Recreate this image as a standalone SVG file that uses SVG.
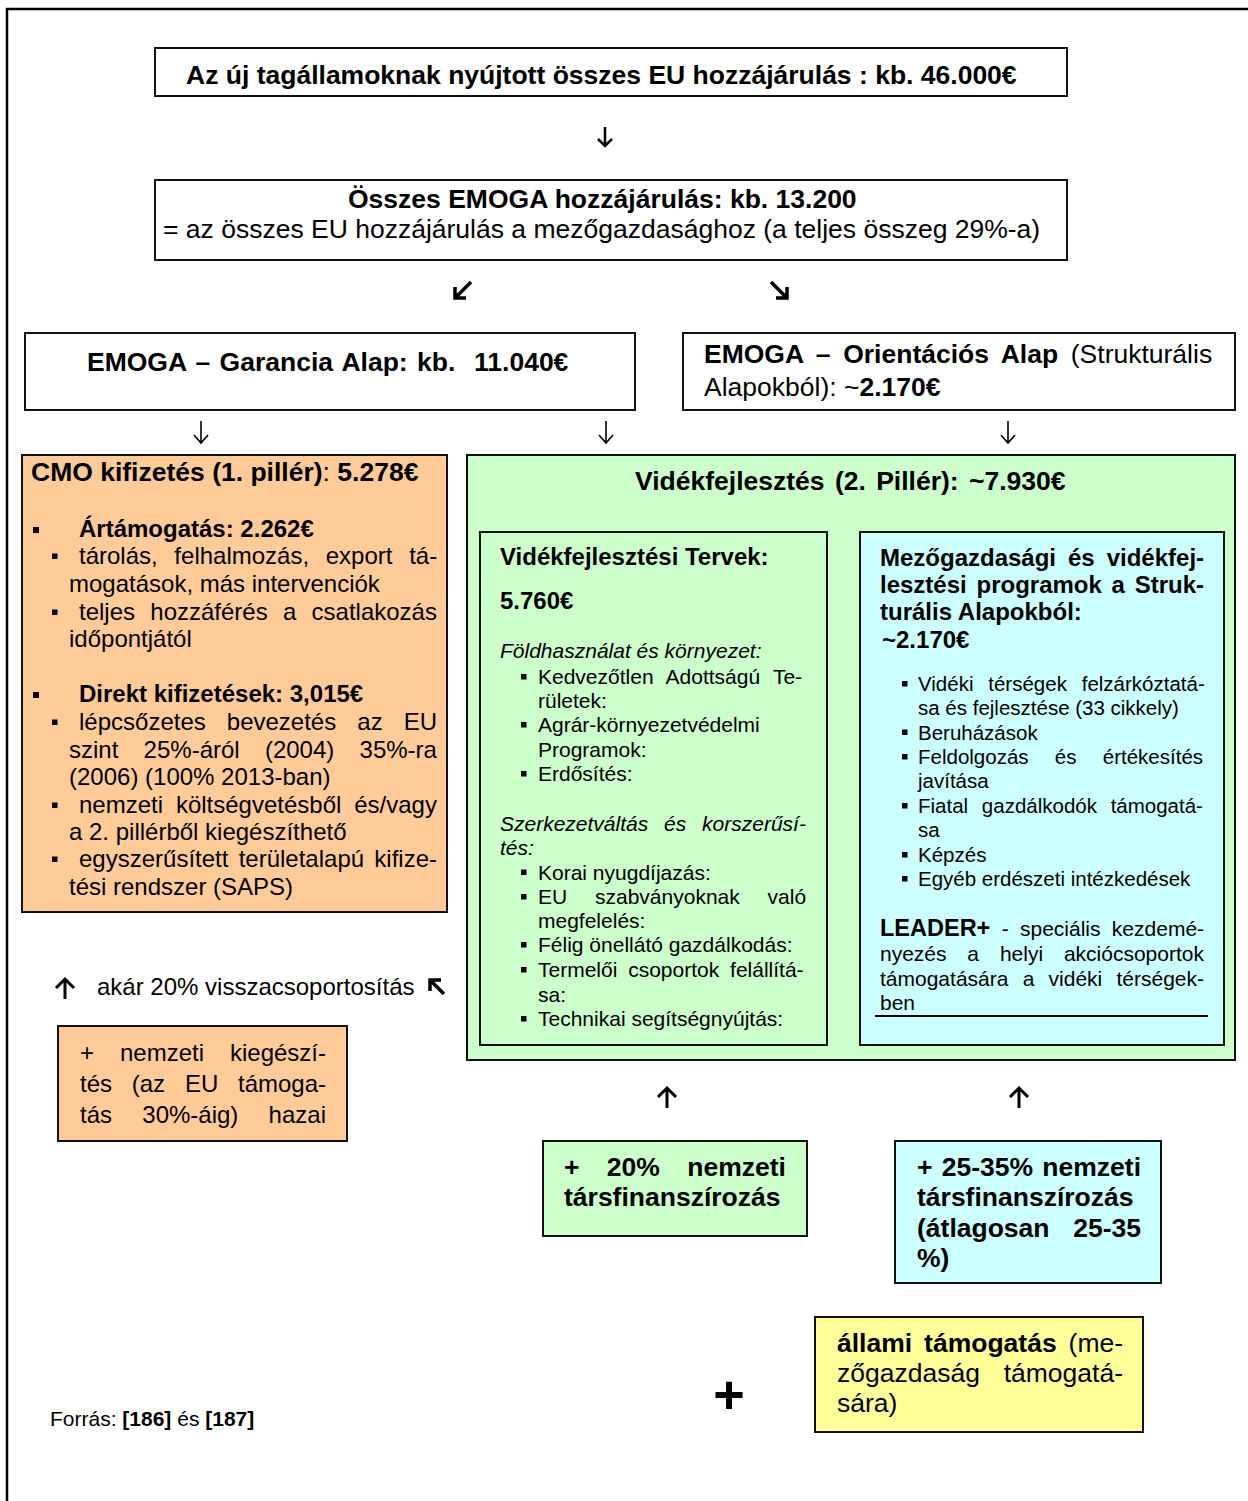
<svg xmlns="http://www.w3.org/2000/svg" width="1248" height="1501" viewBox="0 0 1248 1501">
<style>
text{font-family:"Liberation Sans",Arial,sans-serif;fill:#000}
.b26{font-size:26.5px;font-weight:bold}
.r26{font-size:26.5px}
.b24{font-size:24px;font-weight:bold}
.r24{font-size:24px}
.r21{font-size:21px}
.i21{font-size:21px;font-style:italic}
.r20{font-size:20.5px}
.bx{stroke:#111;stroke-width:2}
.w{fill:#fff}
.or{fill:#FFCC99}
.gr{fill:#CCFFCC}
.cy{fill:#CCFFFF}
.ye{fill:#FFFF99}
.blt{fill:#000}
.arr{fill:none;stroke:#000;stroke-linecap:butt;stroke-linejoin:miter}
tspan.b{font-weight:bold}
tspan.n{font-weight:normal}
</style>
<path d="M7,1501 V9 H1248" fill="none" stroke="#000" stroke-width="2.5"/>

<g id="n-total">
<rect class="bx w" x="155" y="48" width="912" height="48"/>
<text class="b26" x="186" y="84">Az új tagállamoknak nyújtott összes EU hozzájárulás : kb. 46.000€</text>
</g>

<g id="n-emoga">
<rect class="bx w" x="155" y="180" width="912" height="80"/>
<text class="b26" x="348" y="208">Összes EMOGA hozzájárulás: kb. 13.200</text>
<text class="r26" x="163" y="238">= az összes EU hozzájárulás a mezőgazdasághoz (a teljes összeg 29%-a)</text>
</g>

<g id="n-garancia">
<rect class="bx w" x="25" y="333" width="610" height="77"/>
<text class="b26" x="87" y="371" style="white-space:pre;word-spacing:2px">EMOGA – Garancia Alap: kb.  11.040€</text>
</g>

<g id="n-orientacios">
<rect class="bx w" x="683" y="333" width="552" height="77"/>
<text class="r26" x="704" y="363" style="word-spacing:5.3px"><tspan class="b">EMOGA – Orientációs Alap</tspan> (Strukturális</text>
<text class="r26" x="704" y="396">Alapokból): ~<tspan class="b">2.170€</tspan></text>
</g>

<g id="n-cmo">
<rect class="bx or" x="22" y="455" width="425" height="457"/>
<text class="b26" x="31" y="481" font-size="26">CMO kifizetés (1. pillér)<tspan class="n">:</tspan> 5.278€</text>
<rect class="blt" x="33" y="527" width="6" height="6"/>
<text class="b24" x="79" y="537">Ártámogatás: 2.262€</text>
<rect class="blt" x="52" y="553.5" width="5.5" height="5.5"/>
<text class="r24" x="79" y="564" style="word-spacing:10px">tárolás, felhalmozás, export tá-</text>
<text class="r24" x="69" y="592">mogatások, más intervenciók</text>
<rect class="blt" x="52" y="609.5" width="5.5" height="5.5"/>
<text class="r24" x="79" y="620" style="word-spacing:8.6px">teljes hozzáférés a csatlakozás</text>
<text class="r24" x="69" y="647">időpontjától</text>
<rect class="blt" x="33" y="692" width="6" height="6"/>
<text class="b24" x="79" y="702">Direkt kifizetések: 3,015€</text>
<rect class="blt" x="52" y="719.5" width="5.5" height="5.5"/>
<text class="r24" x="79" y="730" style="word-spacing:14.4px">lépcsőzetes bevezetés az EU</text>
<text class="r24" x="69" y="758" style="word-spacing:18.6px">szint 25%-áról (2004) 35%-ra</text>
<text class="r24" x="69" y="785">(2006) (100% 2013-ban)</text>
<rect class="blt" x="52" y="802.5" width="5.5" height="5.5"/>
<text class="r24" x="79" y="813" style="word-spacing:6.2px">nemzeti költségvetésből és/vagy</text>
<text class="r24" x="69" y="840">a 2. pillérből kiegészíthető</text>
<rect class="blt" x="52" y="856.5" width="5.5" height="5.5"/>
<text class="r24" x="79" y="867" style="word-spacing:3.6px">egyszerűsített területalapú kifize-</text>
<text class="r24" x="69" y="895">tési rendszer (SAPS)</text>
</g>

<g id="n-videk">
<rect class="bx gr" x="467" y="455" width="768" height="605"/>
<text class="b26" x="635" y="490" style="word-spacing:3px">Vidékfejlesztés (2. Pillér): ~7.930€</text>
</g>

<g id="n-tervek">
<rect class="bx gr" x="480" y="532" width="347" height="513"/>
<text class="b24" x="500" y="565">Vidékfejlesztési Tervek:</text>
<text class="b24" x="500" y="609">5.760€</text>
<text class="i21" x="500" y="658">Földhasználat és környezet:</text>
<rect class="blt" x="521" y="674" width="5.5" height="5.5"/>
<text class="r21" x="538" y="684" style="word-spacing:7.3px">Kedvezőtlen Adottságú Te-</text>
<text class="r21" x="538" y="708">rületek:</text>
<rect class="blt" x="521" y="722" width="5.5" height="5.5"/>
<text class="r21" x="538" y="732">Agrár-környezetvédelmi</text>
<text class="r21" x="538" y="756.5">Programok:</text>
<rect class="blt" x="521" y="771" width="5.5" height="5.5"/>
<text class="r21" x="538" y="781">Erdősítés:</text>
<text class="i21" x="500" y="831" style="word-spacing:10px">Szerkezetváltás és korszerűsí-</text>
<text class="i21" x="500" y="855">tés:</text>
<rect class="blt" x="521" y="869.5" width="5.5" height="5.5"/>
<text class="r21" x="538" y="879.5">Korai nyugdíjazás:</text>
<rect class="blt" x="521" y="894" width="5.5" height="5.5"/>
<text class="r21" x="538" y="904" style="word-spacing:22px">EU szabványoknak való</text>
<text class="r21" x="538" y="928">megfelelés:</text>
<rect class="blt" x="521" y="942" width="5.5" height="5.5"/>
<text class="r21" x="538" y="952">Félig önellátó gazdálkodás:</text>
<rect class="blt" x="521" y="967" width="5.5" height="5.5"/>
<text class="r21" x="538" y="977" style="word-spacing:5px">Termelői csoportok felállítá-</text>
<text class="r21" x="538" y="1002">sa:</text>
<rect class="blt" x="521" y="1016" width="5.5" height="5.5"/>
<text class="r21" x="538" y="1026">Technikai segítségnyújtás:</text>
</g>

<g id="n-strukt">
<rect class="bx cy" x="860" y="532" width="364" height="513"/>
<text class="b24" x="880" y="566" style="word-spacing:5.3px">Mezőgazdasági és vidékfej-</text>
<text class="b24" x="880" y="593" style="word-spacing:3.1px">lesztési programok a Struk-</text>
<text class="b24" x="880" y="620">turális Alapokból:</text>
<text class="b24" x="882" y="648">~2.170€</text>
<rect class="blt" x="902" y="681" width="5.5" height="5.5"/>
<text class="r20" x="918" y="691" style="word-spacing:9.1px">Vidéki térségek felzárkóztatá-</text>
<text class="r20" x="918" y="715">sa és fejlesztése (33 cikkely)</text>
<rect class="blt" x="902" y="729.5" width="5.5" height="5.5"/>
<text class="r20" x="918" y="739.5">Beruházások</text>
<rect class="blt" x="902" y="754" width="5.5" height="5.5"/>
<text class="r20" x="918" y="764" style="word-spacing:20.6px">Feldolgozás és értékesítés</text>
<text class="r20" x="918" y="788">javítása</text>
<rect class="blt" x="902" y="803" width="5.5" height="5.5"/>
<text class="r20" x="918" y="813" style="word-spacing:8px">Fiatal gazdálkodók támogatá-</text>
<text class="r20" x="918" y="837">sa</text>
<rect class="blt" x="902" y="852" width="5.5" height="5.5"/>
<text class="r20" x="918" y="862">Képzés</text>
<rect class="blt" x="902" y="876" width="5.5" height="5.5"/>
<text class="r20" x="918" y="886">Egyéb erdészeti intézkedések</text>
<text class="r21" x="880" y="936" style="word-spacing:5.5px"><tspan class="b" font-size="23.5">LEADER+</tspan> - speciális kezdemé-</text>
<text class="r21" x="880" y="961" style="word-spacing:15px">nyezés a helyi akciócsoportok</text>
<text class="r21" x="880" y="985.5" style="word-spacing:8.4px">támogatására a vidéki térségek-</text>
<text class="r21" x="880" y="1010">ben</text>
<line x1="875" y1="1016" x2="1208" y2="1016" stroke="#000" stroke-width="2"/>
</g>

<g id="n-realloc">
<text class="r24" x="97" y="995">akár 20% visszacsoportosítás</text>
</g>

<g id="n-nemzeti-kieg">
<rect class="bx or" x="58" y="1026" width="289" height="115"/>
<text class="r24" x="80" y="1061" style="word-spacing:19.3px">+ nemzeti kiegészí-</text>
<text class="r24" x="80" y="1092" style="word-spacing:13.1px">tés (az EU támoga-</text>
<text class="r24" x="80" y="1123" style="word-spacing:23.6px">tás 30%-áig) hazai</text>
</g>

<g id="n-tars20">
<rect class="bx gr" x="543" y="1141" width="264" height="95"/>
<text class="b26" x="564" y="1176" style="word-spacing:20px">+ 20% nemzeti</text>
<text class="b26" x="564" y="1206">társfinanszírozás</text>
</g>

<g id="n-tars2535">
<rect class="bx cy" x="895" y="1141" width="266" height="142"/>
<text class="b26" x="917" y="1176" style="word-spacing:1.9px">+ 25-35% nemzeti</text>
<text class="b26" x="917" y="1206">társfinanszírozás</text>
<text class="b26" x="917" y="1237" style="word-spacing:16.3px">(átlagosan 25-35</text>
<text class="b26" x="917" y="1267">%)</text>
</g>

<g id="n-allami">
<rect class="bx ye" x="815" y="1317" width="328" height="115"/>
<text class="r26" x="837" y="1352" style="word-spacing:4.6px"><tspan class="b">állami támogatás</tspan> (me-</text>
<text class="r26" x="837" y="1382" style="word-spacing:16.4px">zőgazdaság támogatá-</text>
<text class="r26" x="837" y="1412">sára)</text>
</g>

<g id="n-plus">
<text x="729" y="1413" font-size="54" font-weight="bold" text-anchor="middle">+</text>
</g>

<g id="n-source">
<text class="r21" x="50" y="1426">Forrás: <tspan class="b">[186]</tspan> és <tspan class="b">[187]</tspan></text>
</g>

<g id="connectors">
<path class="arr" stroke-width="2.5" d="M605,127 V146 M598,139 L605,146 L612,139"/>
<path class="arr" stroke-width="3.5" d="M471,282 L455,298 M455,287 V298 H466"/>
<path class="arr" stroke-width="3.5" d="M771,282 L787,298 M776,298 H787 V287"/>
<path class="arr" stroke-width="1.6" d="M201,421 V443 M194,435 L201,443 L208,435"/>
<path class="arr" stroke-width="1.6" d="M606,421 V443 M599,435 L606,443 L613,435"/>
<path class="arr" stroke-width="1.6" d="M1008,421 V443 M1001,435 L1008,443 L1015,435"/>
<path class="arr" stroke-width="3" d="M65,999 V980 M56,988 L65,979 L74,988"/>
<path class="arr" stroke-width="3.5" d="M444,994 L430,980 M430,991 V980 H441"/>
<path class="arr" stroke-width="3" d="M667,1108 V1089 M658,1097 L667,1088 L676,1097"/>
<path class="arr" stroke-width="3" d="M1019,1108 V1089 M1010,1097 L1019,1088 L1028,1097"/>
</g>
</svg>
